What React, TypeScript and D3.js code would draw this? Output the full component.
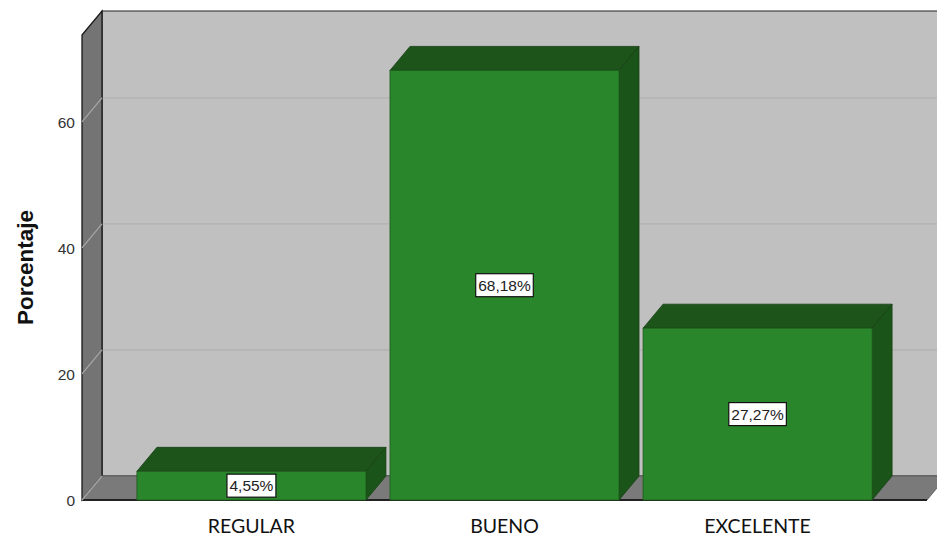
import React, { useEffect, useRef } from 'react';
import * as d3 from 'd3';

const categories = ['REGULAR', 'BUENO', 'EXCELENTE'];
const percentages = [4.55, 68.18, 27.27];
const percentLabels = ['4,55%', '68,18%', '27,27%'];
const yTicks = [0, 20, 40, 60];

function App() {
  const ref = useRef<SVGSVGElement>(null);

  useEffect(() => {
    const svg = d3.select(ref.current);
    svg.selectAll('*').remove();
    const width = 937;
    const dx = 20;
    const dy = -24;
    const left = 82;
    const right = 927;

    const y = d3.scaleLinear().domain([0, 73.8]).range([500, 35]);
    const x = d3
      .scaleBand()
      .domain(categories)
      .range([left, right])
      .paddingInner(0.095)
      .paddingOuter(0.217);

    const y0 = y(0);
    const yTop = y(73.8);
    const poly = (pts: number[][]) => pts.map(p => p.join(',')).join(' ');

    // back wall
    svg
      .append('polygon')
      .attr('points', poly([[left + dx, yTop + dy], [width + 30, yTop + dy], [width + 30, y0 + dy], [left + dx, y0 + dy]]))
      .attr('fill', '#c0c0c0')
      .attr('stroke', '#222')
      .attr('stroke-width', 1.2);

    // grid on back wall
    yTicks.filter(t => t > 0).forEach(t => {
      svg
        .append('line')
        .attr('x1', left + dx).attr('x2', width)
        .attr('y1', y(t) + dy).attr('y2', y(t) + dy)
        .attr('stroke', '#b2b2b2')
        .attr('stroke-width', 1.3);
    });

    // left wall
    svg
      .append('polygon')
      .attr('points', poly([[left, yTop], [left + dx, yTop + dy], [left + dx, y0 + dy], [left, y0]]))
      .attr('fill', '#747474')
      .attr('stroke', '#1a1a1a')
      .attr('stroke-width', 1.3);

    // floor
    svg
      .append('polygon')
      .attr('points', poly([[left, y0], [left + dx, y0 + dy], [right + dx, y0 + dy], [right, y0]]))
      .attr('fill', '#7a7a7a')
      .attr('stroke', '#555')
      .attr('stroke-width', 0.8);
    svg
      .append('line')
      .attr('x1', left).attr('x2', right)
      .attr('y1', y0).attr('y2', y0)
      .attr('stroke', '#222')
      .attr('stroke-width', 2);

    // gridlines on left wall
    yTicks.forEach(t => {
      svg
        .append('line')
        .attr('x1', left).attr('y1', y(t))
        .attr('x2', left + dx).attr('y2', y(t) + dy)
        .attr('stroke', '#a8a8a8')
        .attr('stroke-width', 1.2);
    });

    // bars
    categories.forEach((c, i) => {
      const x0 = x(c) as number;
      const w = x.bandwidth();
      const yt = y(percentages[i]);
      const g = svg.append('g');
      g.append('polygon')
        .attr('points', poly([[x0, yt], [x0 + dx, yt + dy], [x0 + w + dx, yt + dy], [x0 + w, yt]]))
        .attr('fill', '#1c5419')
        .attr('stroke', '#163f14')
        .attr('stroke-width', 0.8);
      g.append('polygon')
        .attr('points', poly([[x0 + w, yt], [x0 + w + dx, yt + dy], [x0 + w + dx, y0 + dy], [x0 + w, y0]]))
        .attr('fill', '#1a5418')
        .attr('stroke', '#163f14')
        .attr('stroke-width', 0.8);
      g.append('rect')
        .attr('x', x0).attr('y', yt)
        .attr('width', w).attr('height', y0 - yt)
        .attr('fill', '#2a862b')
        .attr('stroke', '#1f5a1d')
        .attr('stroke-width', 0.8);

      const cx = x0 + w / 2;
      const cy = (yt + y0) / 2;
      const box = g.append('rect');
      const label = g.append('text')
        .attr('x', cx).attr('y', cy + 5.5)
        .attr('text-anchor', 'middle')
        .attr('font-family', 'Liberation Sans, Arial, sans-serif')
        .attr('font-size', 15.5)
        .attr('fill', '#222')
        .text(percentLabels[i]);
      const lw = (label.node() as SVGTextElement).getComputedTextLength() + 5;
      box
        .attr('x', cx - lw / 2).attr('y', cy - 11.5)
        .attr('width', lw).attr('height', 23)
        .attr('fill', '#fff')
        .attr('stroke', '#111')
        .attr('stroke-width', 1.2);

      svg
        .append('text')
        .attr('x', cx).attr('y', 533)
        .attr('text-anchor', 'middle')
        .attr('font-family', 'Lato, Open Sans, sans-serif')
        .attr('font-size', 19.5)
        .attr('fill', '#111')
        .text(c);
    });

    // y tick labels
    yTicks.forEach(t => {
      svg
        .append('text')
        .attr('x', 75).attr('y', y(t) + 6)
        .attr('text-anchor', 'end')
        .attr('font-family', 'Liberation Sans, Arial, sans-serif')
        .attr('font-size', 15.5)
        .attr('fill', '#333')
        .text(t);
    });

    svg
      .append('text')
      .attr('transform', 'translate(33,267.5) rotate(-90)')
      .attr('text-anchor', 'middle')
      .attr('font-family', 'Liberation Sans, Arial, sans-serif')
      .attr('font-weight', 'bold')
      .attr('font-size', 22.5)
      .attr('fill', '#111')
      .text('Porcentaje');
  }, []);

  return (
    <svg
      ref={ref}
      width={937}
      height={539}
      style={{ position: 'absolute', left: 0, top: 0, background: '#fff' }}
    />
  );
}

export default App;
